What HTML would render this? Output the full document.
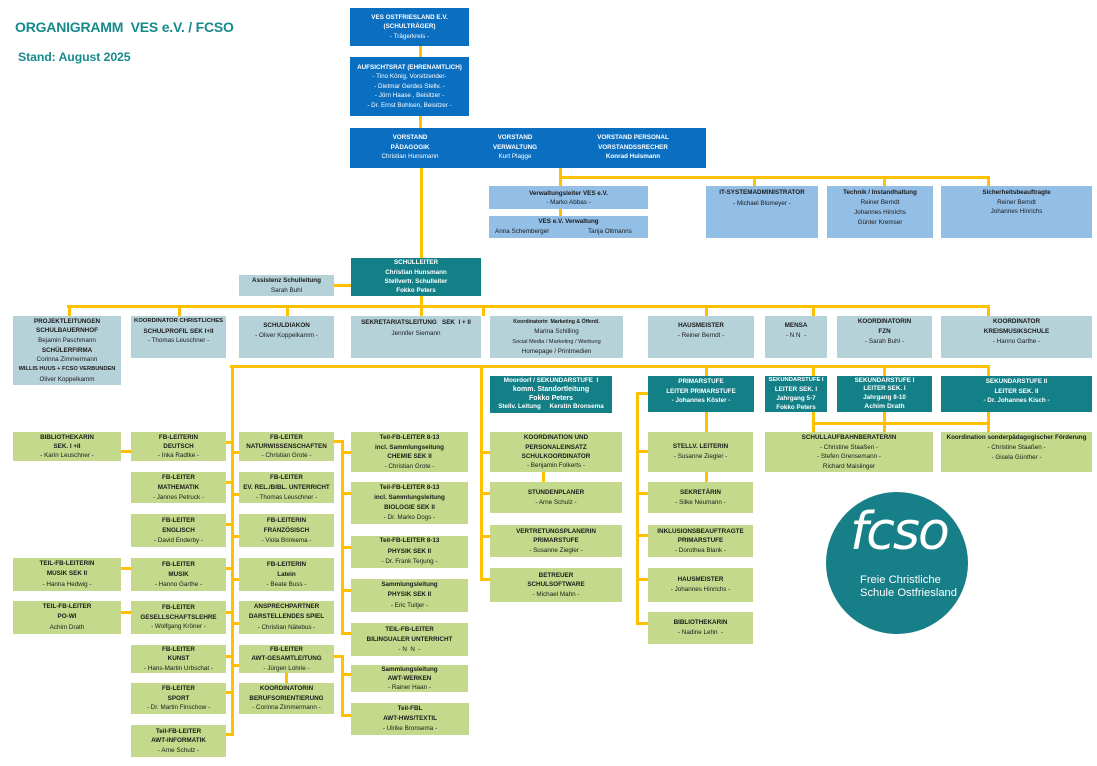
<!DOCTYPE html>
<html><head><meta charset="utf-8"><style>
html,body{margin:0;padding:0;background:#fff;}
body{width:1097px;height:766px;position:relative;overflow:hidden;font-family:"Liberation Sans",Arial,sans-serif;}
.b{position:absolute;display:flex;flex-direction:column;align-items:center;justify-content:center;text-align:center;font-size:6.3px;line-height:9.5px;white-space:nowrap;color:#1a1a1a;box-sizing:border-box;}
.b div{white-space:nowrap;}
.db{background:#0b6fc1;color:#fff;}
.lb{background:#93bee5;}
.tl{background:#137f87;color:#fff;font-weight:bold;}
.gb{background:#b5d2d9;}
.gr{background:#c4d98b;}
.bo{font-weight:bold;}
.top{justify-content:flex-start;}
.h{position:absolute;height:3px;background:#ffc000;}
.v{position:absolute;width:3px;background:#ffc000;}
</style></head><body>

<div style="position:absolute;left:15px;top:19px;font-size:14px;font-weight:bold;color:#178a8c;white-space:nowrap;letter-spacing:-0.2px">ORGANIGRAMM&nbsp; VES e.V. / FCSO</div>
<div style="position:absolute;left:18px;top:50px;font-size:12.3px;font-weight:bold;color:#178a8c;white-space:nowrap;letter-spacing:-0.1px">Stand: August 2025</div>

<!-- connectors -->
<div class="v" style="left:419px;top:46px;height:11px"></div>
<div class="v" style="left:419px;top:112px;height:16px"></div>
<div class="v" style="left:420px;top:168px;height:90px"></div>
<div class="v" style="left:559px;top:168px;height:18px"></div>
<div class="h" style="left:559px;top:176px;width:431px"></div>
<div class="v" style="left:753px;top:176px;height:10px"></div>
<div class="v" style="left:883px;top:176px;height:10px"></div>
<div class="v" style="left:987px;top:176px;height:10px"></div>
<div class="v" style="left:559px;top:209px;height:7px"></div>
<div class="h" style="left:334px;top:284px;width:17px"></div>
<div class="v" style="left:420px;top:296px;height:20px"></div>
<div class="h" style="left:67px;top:305px;width:923px"></div>
<div class="v" style="left:68px;top:305px;height:11px"></div>
<div class="v" style="left:178px;top:305px;height:11px"></div>
<div class="v" style="left:286px;top:305px;height:11px"></div>
<div class="v" style="left:482px;top:305px;height:11px"></div>
<div class="v" style="left:705px;top:305px;height:11px"></div>
<div class="v" style="left:812px;top:305px;height:11px"></div>
<div class="v" style="left:987px;top:305px;height:11px"></div>

<div class="h" style="left:230px;top:365px;width:760px"></div>
<div class="v" style="left:231px;top:365px;height:371px"></div>
<div class="v" style="left:480px;top:365px;height:216px"></div>
<div class="v" style="left:705px;top:365px;height:11px"></div>
<div class="v" style="left:812px;top:365px;height:11px"></div>
<div class="v" style="left:883px;top:365px;height:11px"></div>
<div class="v" style="left:987px;top:365px;height:11px"></div>
<div class="v" style="left:812px;top:412px;height:20px"></div>
<div class="v" style="left:883px;top:412px;height:20px"></div>
<div class="v" style="left:987px;top:412px;height:20px"></div>
<div class="h" style="left:812px;top:422px;width:178px"></div>
<div class="v" style="left:705px;top:412px;height:20px"></div>
<div class="v" style="left:705px;top:472px;height:10px"></div>
<div class="v" style="left:636px;top:392px;height:233px"></div>
<div class="h" style="left:636px;top:392px;width:12px"></div>
<div class="h" style="left:636px;top:450px;width:12px"></div>
<div class="h" style="left:636px;top:492px;width:12px"></div>
<div class="h" style="left:636px;top:534px;width:12px"></div>
<div class="h" style="left:636px;top:578px;width:12px"></div>
<div class="h" style="left:636px;top:622px;width:12px"></div>
<div class="h" style="left:480px;top:451px;width:10px"></div>
<div class="h" style="left:480px;top:492px;width:10px"></div>
<div class="h" style="left:480px;top:535px;width:10px"></div>
<div class="h" style="left:480px;top:578px;width:10px"></div>
<div class="v" style="left:542px;top:472px;height:10px"></div>

<div class="h" style="left:226px;top:441px;width:7px"></div>
<div class="h" style="left:226px;top:481px;width:7px"></div>
<div class="h" style="left:226px;top:523px;width:7px"></div>
<div class="h" style="left:226px;top:567px;width:7px"></div>
<div class="h" style="left:226px;top:611px;width:7px"></div>
<div class="h" style="left:226px;top:655px;width:7px"></div>
<div class="h" style="left:226px;top:691px;width:7px"></div>
<div class="h" style="left:226px;top:733px;width:7px"></div>
<div class="h" style="left:231px;top:451px;width:8px"></div>
<div class="h" style="left:231px;top:493px;width:8px"></div>
<div class="h" style="left:231px;top:535px;width:8px"></div>
<div class="h" style="left:231px;top:578px;width:8px"></div>
<div class="h" style="left:231px;top:622px;width:8px"></div>
<div class="h" style="left:231px;top:664px;width:8px"></div>
<div class="h" style="left:121px;top:450px;width:10px"></div>
<div class="h" style="left:121px;top:567px;width:10px"></div>
<div class="h" style="left:121px;top:611px;width:10px"></div>

<div class="v" style="left:341px;top:440px;height:195px"></div>
<div class="h" style="left:334px;top:440px;width:9px"></div>
<div class="h" style="left:341px;top:451px;width:10px"></div>
<div class="h" style="left:341px;top:492px;width:10px"></div>
<div class="h" style="left:341px;top:546px;width:10px"></div>
<div class="h" style="left:341px;top:589px;width:10px"></div>
<div class="h" style="left:341px;top:632px;width:10px"></div>
<div class="v" style="left:285px;top:673px;height:10px"></div>
<div class="h" style="left:334px;top:655px;width:9px"></div>
<div class="v" style="left:341px;top:655px;height:62px"></div>
<div class="h" style="left:341px;top:673px;width:10px"></div>
<div class="h" style="left:341px;top:714px;width:10px"></div>

<!-- top blue -->
<div class="b db" style="left:350px;top:8px;width:119px;height:38px"><div class="bo">VES OSTFRIESLAND E.V.</div><div class="bo">(SCHULTRÄGER)</div><div>- Trägerkreis -</div></div>
<div class="b db" style="left:350px;top:57px;width:119px;height:59px"><div class="bo">AUFSICHTSRAT (EHRENAMTLICH)</div><div>- Tino König, Vorsitzender-</div><div>- Dietmar Gerdes Stellv. -</div><div>- Jörn Haase , Beisitzer -</div><div>- Dr. Ernst Bohlsen, Beisitzer -</div></div>
<div class="b db" style="left:350px;top:128px;width:356px;height:40px;display:block">
 <div class="b" style="left:20px;top:5px;width:80px;color:#fff;display:block;text-align:center"><div class="bo">VORSTAND</div><div class="bo">PÄDAGOGIK</div><div>Christian Hunsmann</div></div>
 <div class="b" style="left:125px;top:5px;width:80px;color:#fff;display:block;text-align:center"><div class="bo">VORSTAND</div><div class="bo">VERWALTUNG</div><div>Kurt Plagge</div></div>
 <div class="b" style="left:233px;top:5px;width:100px;color:#fff;display:block;text-align:center"><div class="bo">VORSTAND PERSONAL</div><div class="bo">VORSTANDSSRECHER</div><div class="bo">Konrad Huismann</div></div>
</div>

<!-- light blue -->
<div class="b lb" style="left:489px;top:186px;width:159px;height:23px;line-height:9px"><div class="bo">Verwaltungsleiter VES e.V.</div><div>- Marko Abbas -</div></div>
<div class="b lb" style="left:489px;top:216px;width:159px;height:22px;display:block">
 <div class="bo" style="position:absolute;left:0;right:0;top:1px;text-align:center">VES e.V. Verwaltung</div>
 <div style="position:absolute;left:6px;top:11px">Anna Schemberger</div>
 <div style="position:absolute;left:99px;top:11px">Tanja Oltmanns</div>
</div>
<div class="b lb top" style="left:706px;top:186px;width:112px;height:52px;padding-top:2px;line-height:10.5px"><div class="bo">IT-SYSTEMADMINISTRATOR</div><div>- Michael Blomeyer -</div></div>
<div class="b lb top" style="left:827px;top:186px;width:106px;height:52px;padding-top:2px;line-height:10px"><div class="bo">Technik / Instandhaltung</div><div>Reiner Berndt</div><div>Johannes Hinrichs</div><div>Günter Kremser</div></div>
<div class="b lb top" style="left:941px;top:186px;width:151px;height:52px;padding-top:2px;line-height:9.5px"><div class="bo">Sicherheitsbeauftragte</div><div>Reiner Berndt</div><div>Johannes Hinrichs</div></div>

<!-- schulleiter -->
<div class="b tl" style="left:351px;top:258px;width:130px;height:38px;line-height:9.3px"><div>SCHULLEITER</div><div>Christian Hunsmann</div><div>Stellvertr. Schulleiter</div><div>Fokko Peters</div></div>
<div class="b gb" style="left:239px;top:275px;width:95px;height:21px;line-height:9.5px"><div class="bo">Assistenz Schulleitung</div><div>Sarah Buhl</div></div>

<!-- row 2 -->
<div class="b gb" style="left:13px;top:316px;width:108px;height:69px;line-height:9.7px"><div class="bo">PROJEKTLEITUNGEN</div><div class="bo">SCHULBAUERNHOF</div><div>Bejamin Paschmann</div><div class="bo">SCHÜLERFIRMA</div><div>Corinna Zimmermann</div><div class="bo" style="font-size:5.7px">WILLIS HUUS + FCSO VERBUNDEN</div><div>Oliver Koppelkamm</div></div>
<div class="b gb top" style="left:131px;top:316px;width:95px;height:42px;padding-top:1px"><div class="bo" style="font-size:5.9px">KOORDINATOR CHRISTLICHES</div><div class="bo">SCHULPROFIL SEK I+II</div><div>- Thomas Leuschner -</div></div>
<div class="b gb top" style="left:239px;top:316px;width:95px;height:42px;padding-top:5px"><div class="bo">SCHULDIAKON</div><div>- Oliver Koppelkamm -</div></div>
<div class="b gb top" style="left:351px;top:316px;width:130px;height:42px;padding-top:1px;line-height:11px"><div class="bo">SEKRETARIATSLEITUNG&nbsp;&nbsp; SEK&nbsp; I + II</div><div>Jennifer Siemann</div></div>
<div class="b gb" style="left:490px;top:316px;width:133px;height:42px;line-height:10px"><div class="bo" style="font-size:5.2px">Koordinatorin&nbsp; Marketing &amp; Öffentl.</div><div>Marina Schilling</div><div style="font-size:5.6px">Social Media / Marketing / Werbung</div><div>Homepage / Printmedien</div></div>
<div class="b gb top" style="left:648px;top:316px;width:106px;height:42px;padding-top:5px;line-height:10px"><div class="bo">HAUSMEISTER</div><div>- Reiner Berndt -</div></div>
<div class="b gb top" style="left:765px;top:316px;width:62px;height:42px;padding-top:5px;line-height:10px"><div class="bo">MENSA</div><div>- N N&nbsp; -</div></div>
<div class="b gb top" style="left:837px;top:316px;width:95px;height:42px;padding-top:1px;line-height:10px"><div class="bo">KOORDINATORIN</div><div class="bo">FZN</div><div>- Sarah Buhl -</div></div>
<div class="b gb top" style="left:941px;top:316px;width:151px;height:42px;padding-top:1px;line-height:10px"><div class="bo">KOORDINATOR</div><div class="bo">KREISMUSIKSCHULE</div><div>- Hanno Garthe -</div></div>

<!-- row 3 teal -->
<div class="b tl" style="left:490px;top:376px;width:122px;height:37px;line-height:8.6px"><div>Moordorf / SEKUNDARSTUFE&nbsp; I</div><div style="font-size:7px">komm. Standortleitung</div><div style="font-size:7px">Fokko Peters</div><div>Stellv. Leitung&nbsp;&nbsp;&nbsp;&nbsp; Kerstin Bronsema</div></div>
<div class="b tl top" style="left:648px;top:376px;width:106px;height:36px;padding-top:1px"><div>PRIMARSTUFE</div><div>LEITER PRIMARSTUFE</div><div>- Johannes Köster -</div></div>
<div class="b tl" style="left:765px;top:376px;width:62px;height:36px;line-height:9px"><div style="font-size:5.8px">SEKUNDARSTUFE I</div><div>LEITER SEK. I</div><div>Jahrgang 5-7</div><div>Fokko Peters</div></div>
<div class="b tl" style="left:837px;top:376px;width:95px;height:36px;line-height:8.7px"><div>SEKUNDARSTUFE I</div><div>LEITER SEK. I</div><div>Jahrgang 8-10</div><div style="font-size:6.8px">Achim Drath</div></div>
<div class="b tl top" style="left:941px;top:376px;width:151px;height:36px;padding-top:1px"><div>SEKUNDARSTUFE II</div><div>LEITER SEK. II</div><div>- Dr. Johannes Kisch -</div></div>

<div class="b gr" style="left:765px;top:432px;width:168px;height:40px;line-height:9.5px"><div class="bo">SCHULLAUFBAHNBERATER/IN</div><div>- Christine Staaßen -</div><div>- Stefen Grensemann -</div><div>Richard Maislinger</div></div>
<div class="b gr top" style="left:941px;top:432px;width:151px;height:40px;padding-top:1px;line-height:10px"><div class="bo">Koordination sonderpädagogischer Förderung</div><div>- Christine Staaßen -</div><div>- Gisela Günther -</div></div>

<!-- column A -->
<div class="b gr" style="left:13px;top:432px;width:108px;height:29px;line-height:9.3px"><div class="bo">BIBLIOTHEKARIN</div><div class="bo">SEK. I +II</div><div>- Karin Leuschner -</div></div>
<div class="b gr" style="left:13px;top:558px;width:108px;height:33px;line-height:10.5px"><div class="bo">TEIL-FB-LEITERIN</div><div class="bo">MUSIK SEK II</div><div>- Hanna Hedwig -</div></div>
<div class="b gr" style="left:13px;top:601px;width:108px;height:33px;line-height:10.5px"><div class="bo">TEIL-FB-LEITER</div><div class="bo">PO-WI</div><div>Achim Drath</div></div>

<!-- column B -->
<div class="b gr" style="left:131px;top:432px;width:95px;height:29px;line-height:9.3px"><div class="bo">FB-LEITERIN</div><div class="bo">DEUTSCH</div><div>- Inka Radtke -</div></div>
<div class="b gr" style="left:131px;top:472px;width:95px;height:31px;line-height:10px"><div class="bo">FB-LEITER</div><div class="bo">MATHEMATIK</div><div>- Jannes Petruck -</div></div>
<div class="b gr" style="left:131px;top:514px;width:95px;height:33px;line-height:10px"><div class="bo">FB-LEITER</div><div class="bo">ENGLISCH</div><div>- David Enderby -</div></div>
<div class="b gr" style="left:131px;top:558px;width:95px;height:33px;line-height:10px"><div class="bo">FB-LEITER</div><div class="bo">MUSIK</div><div>- Hanno Garthe -</div></div>
<div class="b gr" style="left:131px;top:601px;width:95px;height:33px;line-height:9.5px"><div class="bo">FB-LEITER</div><div class="bo">GESELLSCHAFTSLEHRE</div><div>- Wolfgang Kröner -</div></div>
<div class="b gr" style="left:131px;top:645px;width:95px;height:28px;line-height:9.5px"><div class="bo">FB-LEITER</div><div class="bo">KUNST</div><div>- Hans-Martin Urbschat -</div></div>
<div class="b gr" style="left:131px;top:683px;width:95px;height:31px;line-height:9.5px"><div class="bo">FB-LEITER</div><div class="bo">SPORT</div><div>- Dr. Martin Finschow -</div></div>
<div class="b gr" style="left:131px;top:725px;width:95px;height:32px;line-height:9.5px"><div class="bo">Teil-FB-LEITER</div><div class="bo">AWT-INFORMATIK</div><div>- Arne Schulz -</div></div>

<!-- column C -->
<div class="b gr" style="left:239px;top:432px;width:95px;height:29px;line-height:9.3px"><div class="bo">FB-LEITER</div><div class="bo">NATURWISSENSCHAFTEN</div><div>- Christian Grote -</div></div>
<div class="b gr" style="left:239px;top:472px;width:95px;height:31px;line-height:10px"><div class="bo">FB-LEITER</div><div class="bo">EV. REL./BIBL. UNTERRICHT</div><div>- Thomas Leuschner -</div></div>
<div class="b gr" style="left:239px;top:514px;width:95px;height:33px;line-height:10px"><div class="bo">FB-LEITERIN</div><div class="bo">FRANZÖSISCH</div><div>- Viola Brinkema -</div></div>
<div class="b gr" style="left:239px;top:558px;width:95px;height:33px;line-height:10px"><div class="bo">FB-LEITERIN</div><div class="bo">Latein</div><div>- Beate Buss -</div></div>
<div class="b gr" style="left:239px;top:601px;width:95px;height:33px;line-height:10.5px"><div class="bo">ANSPRECHPARTNER</div><div class="bo">DARSTELLENDES SPIEL</div><div>- Christian Nätebus -</div></div>
<div class="b gr" style="left:239px;top:645px;width:95px;height:28px;line-height:9.5px"><div class="bo">FB-LEITER</div><div class="bo">AWT-GESAMTLEITUNG</div><div>- Jürgen Lohrie -</div></div>
<div class="b gr" style="left:239px;top:683px;width:95px;height:31px;line-height:9.5px"><div class="bo">KOORDINATORIN</div><div class="bo">BERUFSORIENTIERUNG</div><div>- Corinna Zimmermann -</div></div>

<!-- column D -->
<div class="b gr" style="left:351px;top:432px;width:117px;height:40px;line-height:9.5px"><div class="bo">Teil-FB-LEITER 8-13</div><div class="bo">incl. Sammlungseitung</div><div class="bo">CHEMIE SEK II</div><div>- Christian Grote -</div></div>
<div class="b gr" style="left:351px;top:482px;width:117px;height:42px;line-height:10px"><div class="bo">Teil-FB-LEITER 8-13</div><div class="bo">incl. Sammlungsleitung</div><div class="bo">BIOLOGIE SEK II</div><div>- Dr. Marko Dogs -</div></div>
<div class="b gr" style="left:351px;top:536px;width:117px;height:32px;line-height:10.5px"><div class="bo">Teil-FB-LEITER 8-13</div><div class="bo">PHYSIK SEK II</div><div>- Dr. Frank Terjung -</div></div>
<div class="b gr" style="left:351px;top:579px;width:117px;height:33px;line-height:10.5px"><div class="bo">Sammlungsleitung</div><div class="bo">PHYSIK SEK II</div><div>- Eric Tuitjer -</div></div>
<div class="b gr" style="left:351px;top:623px;width:117px;height:33px;line-height:10px"><div class="bo">TEIL-FB-LEITER</div><div class="bo">BILINGUALER UNTERRICHT</div><div>- N&nbsp; N&nbsp; -</div></div>
<div class="b gr" style="left:351px;top:665px;width:117px;height:27px;line-height:9px"><div class="bo">Sammlungsleitung</div><div class="bo">AWT-WERKEN</div><div>- Rainer Haan -</div></div>
<div class="b gr" style="left:351px;top:703px;width:118px;height:32px;line-height:10px"><div class="bo">Teil-FBL</div><div class="bo">AWT-HWS/TEXTIL</div><div>- Ulrike Bronsema -</div></div>

<!-- column E -->
<div class="b gr" style="left:490px;top:432px;width:132px;height:40px;line-height:9.3px"><div class="bo">KOORDINATION UND</div><div class="bo">PERSONALEINSATZ</div><div class="bo">SCHULKOORDINATOR</div><div>- Benjamin Folkerts -</div></div>
<div class="b gr" style="left:490px;top:482px;width:132px;height:31px;line-height:9.5px"><div class="bo">STUNDENPLANER</div><div>- Arne Schulz -</div></div>
<div class="b gr" style="left:490px;top:525px;width:132px;height:32px;line-height:9.5px"><div class="bo">VERTRETUNGSPLANERIN</div><div class="bo">PRIMARSTUFE</div><div>- Susanne Ziegler -</div></div>
<div class="b gr" style="left:490px;top:568px;width:132px;height:34px;line-height:9.3px"><div class="bo">BETREUER</div><div class="bo">SCHULSOFTWARE</div><div>- Michael Mahn -</div></div>

<!-- column F -->
<div class="b gr" style="left:648px;top:432px;width:105px;height:40px;line-height:10.5px"><div class="bo">STELLV. LEITERIN</div><div>- Susanne Ziegler -</div></div>
<div class="b gr" style="left:648px;top:482px;width:105px;height:31px;line-height:9.5px"><div class="bo">SEKRETÄRIN</div><div>- Silke Neumann -</div></div>
<div class="b gr" style="left:648px;top:525px;width:105px;height:32px;line-height:9.5px"><div class="bo">INKLUSIONSBEAUFTRAGTE</div><div class="bo">PRIMARSTUFE</div><div>- Dorothea Blank -</div></div>
<div class="b gr" style="left:648px;top:568px;width:105px;height:34px;line-height:10px"><div class="bo">HAUSMEISTER</div><div>- Johannes Hinrichs -</div></div>
<div class="b gr" style="left:648px;top:612px;width:105px;height:32px;line-height:10px"><div class="bo">BIBLIOTHEKARIN</div><div>- Nadine Lehn&nbsp; -</div></div>

<!-- logo -->
<div style="position:absolute;left:826px;top:492px;width:142px;height:142px;border-radius:50%;background:#177f87;"></div>
<div style="position:absolute;left:850px;top:497px;font-family:'DejaVu Sans',sans-serif;font-size:52px;font-weight:200;color:#fff;letter-spacing:-2px;font-style:italic;line-height:70px">fcso</div>
<div style="position:absolute;left:860px;top:574px;font-size:11.2px;color:#fff;line-height:12.5px;white-space:nowrap">Freie Christliche<br>Schule Ostfriesland</div>

</body></html>
